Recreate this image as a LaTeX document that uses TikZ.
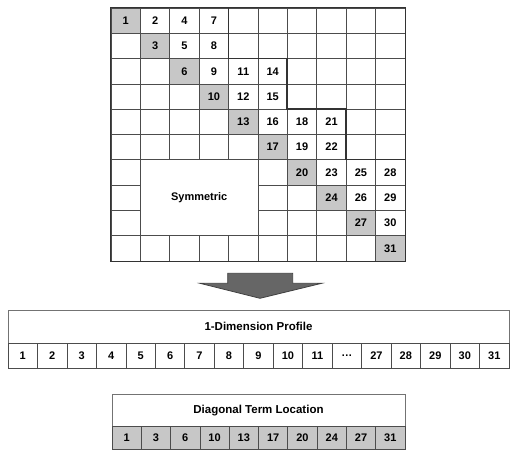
\documentclass[tikz,border=0pt]{standalone}
\usepackage{fontspec}
\setmainfont{Liberation Sans}

\begin{document}
\begin{tikzpicture}[x=1pt, y=-1pt, line width=0.7pt,
    cell/.style={draw=black!70, minimum width=29.4pt, minimum height=25.3pt,
      inner sep=0pt, font=\bfseries\fontsize{11}{12}\selectfont},
    diagcell/.style={cell, fill=black!22},
    rowcell/.style={cell, minimum width=29.5pt, minimum height=25pt},
    termcell/.style={cell, fill=black!22, minimum width=29.3pt, minimum height=22.6pt},
    titlebox/.style={draw=black!55, inner sep=0pt, font=\bfseries\fontsize{11.5}{13}\selectfont},
    profile/.style={draw=black!80, line width=1.3pt}]

  % Frame of the picture
  \useasboundingbox (0,0) rectangle (511,453);

  % Storage matrix: 10 x 10 cells
  \foreach \r in {0,...,9}
    \foreach \c in {0,...,9}
      \node[cell] (m-\r-\c) at ({111+29.4*(\c+0.5)},{8+25.3*(\r+0.5)}) {};

  % Merged block of the lower triangle
  \node[cell, fill=white, minimum width=117.6pt, minimum height=75.9pt] (sym)
    at ({111+29.4*3},{8+25.3*7.5}) {Symmetric};

  % Off-diagonal terms of the skyline
  \foreach \r/\c/\v in {0/1/2, 0/2/4, 0/3/7, 1/2/5, 1/3/8, 2/3/9, 2/4/11, 2/5/14,
      3/4/12, 3/5/15, 4/5/16, 4/6/18, 4/7/21, 5/6/19, 5/7/22, 6/7/23, 6/8/25,
      6/9/28, 7/8/26, 7/9/29, 8/9/30}
    \node[font=\bfseries\fontsize{11}{12}\selectfont] at (m-\r-\c) {\v};

  % Diagonal terms
  \foreach \r/\v in {0/1, 1/3, 2/6, 3/10, 4/13, 5/17, 6/20, 7/24, 8/27, 9/31}
    \node[diagcell] (d-\r) at (m-\r-\r) {\v};

  % Skyline profile and outer border
  \draw[profile] (m-0-4.north west) -- (m-2-4.north west) -- (m-2-6.north west)
    -- (m-4-6.north west) -- (m-4-8.north west) -- (m-6-8.north west)
    -- (m-6-9.north east);
  \draw[profile] (m-0-0.north west) rectangle (m-9-9.south east);

  % Block arrow down
  \draw[fill=black!60, draw=black!75, line width=0.8pt]
    (227.7,273.3) -- (292.7,273.3) -- (292.7,283.3) -- (321.7,283.3)
    -- (260,298.3) -- (200,283.3) -- (227.7,283.3) -- cycle;

  % 1-Dimension profile
  \node[titlebox, minimum width=501pt, minimum height=33.3pt] (prof)
    at (258.5,326.6) {1-Dimension Profile};
  \foreach \v [count=\i from 0] in {1,2,3,4,5,6,7,8,9,10,11,{…},27,28,29,30,31}
    \node[rowcell] (p-\i) at ({8+29.47*(\i+0.5)},355.8) {\v};

  % Diagonal term location
  \node[titlebox, minimum width=293pt, minimum height=32.7pt] (diag)
    at (258.5,410.4) {Diagonal Term Location};
  \foreach \v [count=\i from 0] in {1,3,6,10,13,17,20,24,27,31}
    \node[termcell] (t-\i) at ({112+29.3*(\i+0.5)},438) {\v};
\end{tikzpicture}
\end{document}
